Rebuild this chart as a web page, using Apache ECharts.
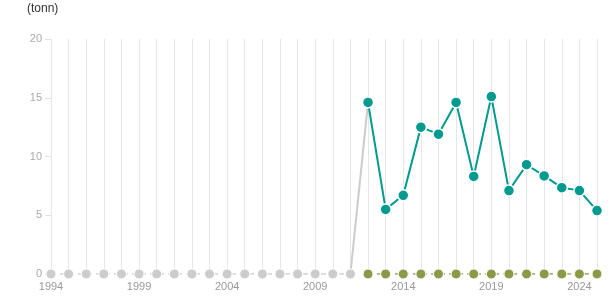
<!DOCTYPE html>
<html><head><meta charset="utf-8">
<script src="https://cdn.jsdelivr.net/npm/echarts@6/dist/echarts.min.js"></script>
<style>html,body{margin:0;padding:0;background:#fff}#c{width:615px;height:305px}</style>
</head><body><div id="c"></div>
<script>
const years = [];
for (let y = 1994; y <= 2025; y++) years.push(String(y));
const yTicks = [0, 5, 10, 15, 20];
// main series (tonn), from 2012
const mainYears = ['2012','2013','2014','2015','2016','2017','2018','2019','2020','2021','2022','2023','2024','2025'];
const mainValues = [14.6, 5.5, 6.7, 12.5, 11.9, 14.6, 8.3, 15.1, 7.1, 9.3, 8.35, 7.35, 7.1, 5.4];
// earlier years shown as zero (grey)
const earlyYears = ['1994','1995','1996','1997','1998','1999','2000','2001','2002','2003','2004','2005','2006','2007','2008','2009','2010','2011'];
const earlyValues = [0,0,0,0,0,0,0,0,0,0,0,0,0,0,0,0,0,0];
// second series (zero) from 2012
const secondValues = [0,0,0,0,0,0,0,0,0,0,0,0,0,0];
// link segment between the two periods
const linkYears = ['2011','2012'];
const linkValues = [0, 14.6];

const toPairs = (xs, vs) => xs.map((x, i) => [x, vs[i]]);

const chart = echarts.init(document.getElementById('c'), null, {renderer: 'canvas'});
chart.setOption({
  animation: false,
  grid: {left: 51, right: 18, top: 39, bottom: 31},
  graphic: [{type: 'text', left: 27, top: 3, style: {text: '(tonn)', font: '12px Arial', fill: '#333'}}],
  xAxis: {
    type: 'category', data: years, boundaryGap: false,
    axisLine: {show: false},
    axisTick: {show: false},
    axisLabel: {interval: 4, color: '#999', fontSize: 11, fontFamily: 'Arial', margin: 7},
    splitLine: {show: true, interval: 0, lineStyle: {color: '#e6e6e6', width: 1}}
  },
  yAxis: {
    type: 'value', min: yTicks[0], max: yTicks[yTicks.length - 1], interval: 5,
    axisLine: {show: false},
    axisTick: {show: true, length: 6, lineStyle: {color: '#e0e0e0'}},
    axisLabel: {color: '#aaa', fontSize: 11, fontFamily: 'Arial', margin: 9},
    splitLine: {show: false}
  },
  series: [
    {type: 'line', data: toPairs(linkYears, linkValues), symbol: 'none', z: 1,
     lineStyle: {color: '#cccccc', width: 2}},
    {type: 'line', data: toPairs(earlyYears, earlyValues), symbol: 'circle', symbolSize: 10, z: 2,
     itemStyle: {color: '#cccccc', borderColor: '#fff', borderWidth: 1},
     lineStyle: {color: '#cccccc', width: 1.5, type: [5, 4]}},
    {type: 'line', data: toPairs(mainYears, secondValues), symbol: 'circle', symbolSize: 10, z: 3,
     itemStyle: {color: '#8a9a48', borderColor: '#fff', borderWidth: 1},
     lineStyle: {color: '#8a9a48', width: 1.5, type: [5, 4]}},
    {type: 'line', data: toPairs(mainYears, mainValues), symbol: 'circle', symbolSize: 11, z: 4,
     itemStyle: {color: '#009a8e', borderColor: '#fff', borderWidth: 1.5},
     lineStyle: {color: '#009a8e', width: 2}}
  ]
});
</script></body></html>
